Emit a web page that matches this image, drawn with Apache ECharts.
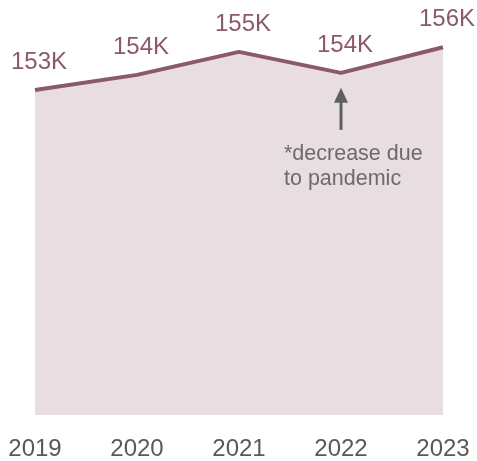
<!DOCTYPE html>
<html>
<head>
<meta charset="utf-8">
<script src="https://cdn.jsdelivr.net/npm/echarts@6/dist/echarts.min.js"></script>
<style>
  html, body { margin: 0; padding: 0; background: #fff; }
  #chart { width: 477px; height: 461px; }
</style>
</head>
<body>
<div id="chart"></div>
<script>
  // years on x axis
  var years = ['2019', '2020', '2021', '2022', '2023'];
  var population = [152630, 153680, 155280, 153820, 155600];
  var noteYear = '2022';
  var noteLines = ['*decrease due', 'to pandemic'];

  var chart = echarts.init(document.getElementById('chart'));
  var font = 'Liberation Sans, Arial, sans-serif';

  chart.setOption({
    animation: false,
    grid: { left: 35, right: 34, top: 20, bottom: 46 },
    xAxis: {
      type: 'category',
      data: years,
      boundaryGap: false,
      axisLine: { show: false },
      axisTick: { show: false },
      axisLabel: { color: '#595959', fontSize: 24, fontFamily: font, margin: 22 }
    },
    yAxis: {
      type: 'value',
      min: 130000,
      max: 157500,
      show: false,
      splitLine: { show: false }
    },
    series: [{
      type: 'line',
      data: population,
      symbol: 'circle',
      symbolSize: 1,
      showSymbol: true,
      itemStyle: { color: 'rgba(0,0,0,0)' },
      lineStyle: { color: '#8b5a67', width: 4 },
      areaStyle: { color: '#e8dde0', opacity: 1 },
      label: {
        show: true,
        position: 'top',
        distance: 15,
        offset: [4, 0],
        color: '#8b5a67',
        fontSize: 24,
        fontFamily: font,
        formatter: function (p) { return Math.round(p.value / 1000) + 'K'; }
      }
    }]
  });

  // arrow + note under the 2022 dip
  var idx = years.indexOf(noteYear);
  var pt = chart.convertToPixel({ seriesIndex: 0 }, [idx, population[idx]]);
  var x = pt[0], y = pt[1];
  chart.setOption({
    graphic: {
      elements: [
        {
          type: 'rect',
          z: 100,
          shape: { x: x - 1.5, y: y + 28, width: 3, height: 29 },
          style: { fill: '#5f5f5f' }
        },
        {
          type: 'polygon',
          z: 100,
          shape: { points: [[x, y + 15], [x - 7, y + 30], [x + 7, y + 30]] },
          style: { fill: '#5f5f5f' }
        },
        {
          type: 'text',
          z: 100,
          x: x - 57,
          y: y + 69,
          style: {
            text: noteLines.join('\n'),
            fill: '#6b6b6b',
            fontSize: 21.5,
            fontFamily: font,
            lineHeight: 25
          }
        }
      ]
    }
  });
</script>
</body>
</html>
